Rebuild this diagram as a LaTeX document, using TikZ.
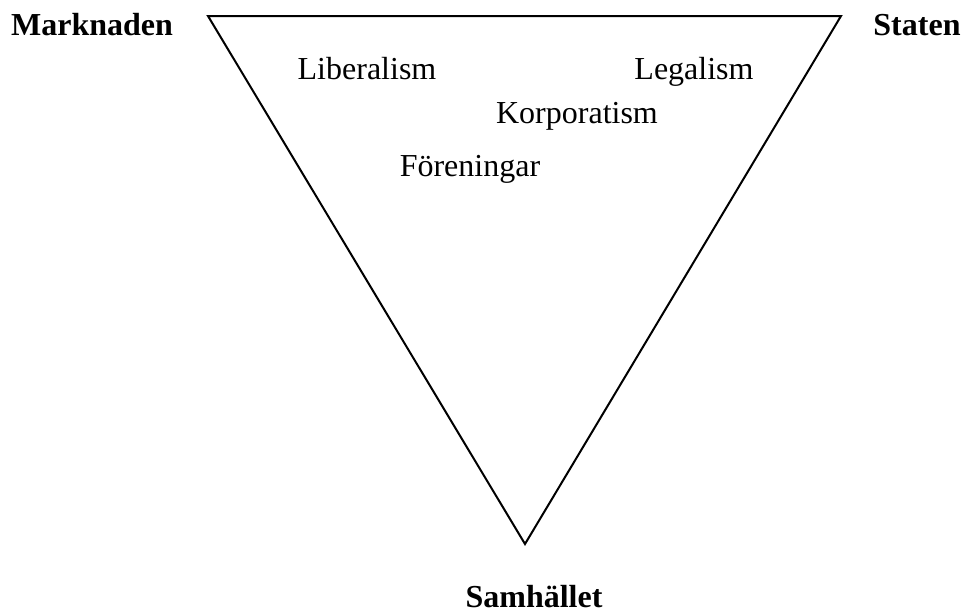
\documentclass[tikz,border=0pt]{standalone}
\usepackage{fontspec}
\setmainfont{Liberation Serif}
\usepackage{tikz}

\begin{document}
\begin{tikzpicture}[x=0.5pt, y=-0.5pt, every node/.style={font=\fontsize{16}{19}\selectfont, anchor=base, inner sep=0pt},
    corner/.style={font=\fontsize{16}{19}\selectfont\bfseries}]
    \useasboundingbox (0,0) rectangle (965,611);

    % Triangle corners
    \coordinate (tl) at (208,16);
    \coordinate (tr) at (841,16);
    \coordinate (bot) at (525,544);

    % Triangle
    \draw[line width=1pt, line join=miter] (tl) -- (tr) -- (bot) -- cycle;

    % Corner labels
    \node[corner] (market) at (92,35) {Marknaden};
    \node[corner] (state) at (917,35) {Staten};
    \node[corner] (society) at (534,607) {Samhället};

    % Inner labels
    \node (liberal) at (367,79) {Liberalism};
    \node (legal) at (694,79) {Legalism};
    \node (corp) at (577,123) {Korporatism};
    \node (assoc) at (470,176) {Föreningar};
\end{tikzpicture}
\end{document}
